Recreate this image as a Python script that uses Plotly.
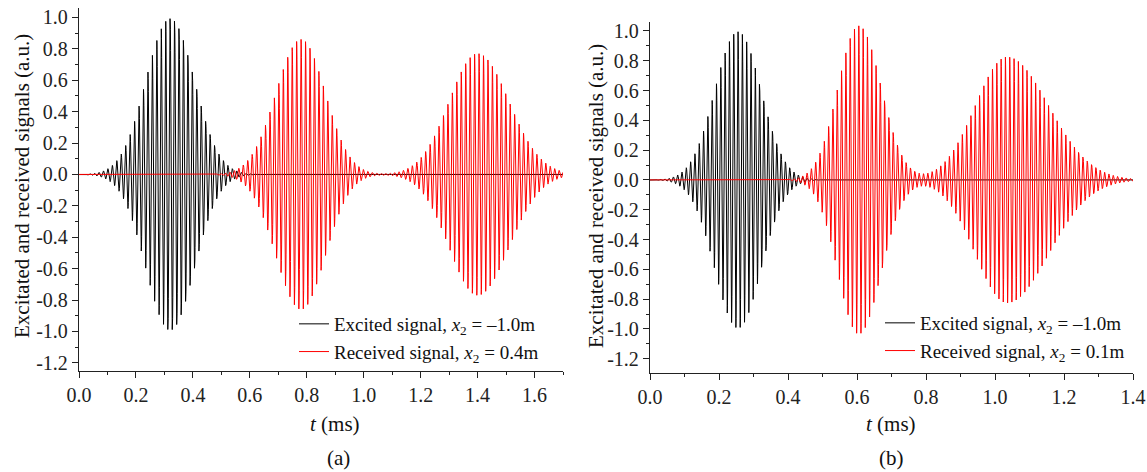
import numpy as np
import plotly.graph_objects as go

# ---- values (burst envelopes: centre / peak / left & right widths, ms) ----
a_t_max = 1.7
a_exc_centers = [0.32]
a_exc_peaks = [1.0]
a_exc_left = [0.085]
a_exc_right = [0.085]
a_rec_centers = [0.78, 1.40]
a_rec_peaks = [0.86, 0.77]
a_rec_left = [0.088, 0.10]
a_rec_right = [0.085, 0.11]
a_carrier_khz = 64.0

b_t_max = 1.4
b_exc_centers = [0.255]
b_exc_peaks = [1.0]
b_exc_left = [0.067]
b_exc_right = [0.067]
b_rec_centers = [0.605, 1.035]
b_rec_peaks = [1.04, 0.83]
b_rec_left = [0.06, 0.092]
b_rec_right = [0.065, 0.12]
b_carrier_khz = 80.0

legend_a = ["Excited signal, <i>x</i><sub>2</sub> = \u20131.0m",
            "Received signal, <i>x</i><sub>2</sub> = 0.4m"]
legend_b = ["Excited signal, <i>x</i><sub>2</sub> = \u20131.0m",
            "Received signal, <i>x</i><sub>2</sub> = 0.1m"]

x_ticks_a = [0.0, 0.2, 0.4, 0.6, 0.8, 1.0, 1.2, 1.4, 1.6]
x_ticks_b = [0.0, 0.2, 0.4, 0.6, 0.8, 1.0, 1.2, 1.4]
y_ticks = [1.0, 0.8, 0.6, 0.4, 0.2, 0.0, -0.2, -0.4, -0.6, -0.8, -1.0, -1.2]
y_tick_text = ["1.0", "0.8", "0.6", "0.4", "0.2", "0.0", "-0.2", "-0.4", "-0.6", "-0.8", "-1.0", "-1.2"]
x_tick_text_a = ["%.1f" % v for v in x_ticks_a]
x_tick_text_b = ["%.1f" % v for v in x_ticks_b]


def burst(t, centers, peaks, left, right, f_khz):
    env = np.zeros_like(t)
    for c, p, wl, wr in zip(centers, peaks, left, right):
        w = np.where(t < c, wl, wr)
        env += p * np.exp(-((t - c) ** 2) / (2 * w ** 2))
    return env * np.cos(2 * np.pi * f_khz * (t - centers[0]))


ta = np.linspace(0, a_t_max, int(a_t_max * a_carrier_khz * 24) + 1)
tb = np.linspace(0, b_t_max, int(b_t_max * b_carrier_khz * 24) + 1)

fig = go.Figure()
fig.add_trace(go.Scatter(x=ta, y=burst(ta, a_exc_centers, a_exc_peaks, a_exc_left, a_exc_right, a_carrier_khz),
                         mode="lines", line=dict(color="#000000", width=1), name=legend_a[0],
                         xaxis="x", yaxis="y", legend="legend"))
fig.add_trace(go.Scatter(x=ta, y=burst(ta, a_rec_centers, a_rec_peaks, a_rec_left, a_rec_right, a_carrier_khz),
                         mode="lines", line=dict(color="#ff0000", width=1), name=legend_a[1],
                         xaxis="x", yaxis="y", legend="legend"))
fig.add_trace(go.Scatter(x=tb, y=burst(tb, b_exc_centers, b_exc_peaks, b_exc_left, b_exc_right, b_carrier_khz),
                         mode="lines", line=dict(color="#000000", width=1), name=legend_b[0],
                         xaxis="x2", yaxis="y2", legend="legend2"))
fig.add_trace(go.Scatter(x=tb, y=burst(tb, b_rec_centers, b_rec_peaks, b_rec_left, b_rec_right, b_carrier_khz),
                         mode="lines", line=dict(color="#ff0000", width=1), name=legend_b[1],
                         xaxis="x2", yaxis="y2", legend="legend2"))

W, H = 1147, 472
font = "Liberation Serif"


def xaxis(domain, rng, ticks, text, anchor):
    return dict(domain=domain, range=rng, anchor=anchor, tickvals=ticks, ticktext=text,
                automargin=False,
                showline=True, linecolor="#222", linewidth=1.3, ticks="outside", ticklen=6,
                tickcolor="#222", tickwidth=1.2, showgrid=False, zeroline=False,
                tickfont=dict(family=font, size=20, color="#222"),
                minor=dict(ticks="outside", ticklen=3, dtick=0.1, tick0=0, tickcolor="#222", showgrid=False))


def yaxis(domain, rng, anchor):
    return dict(domain=domain, range=rng, anchor=anchor, tickvals=y_ticks, ticktext=y_tick_text,
                automargin=False,
                showline=True, linecolor="#222", linewidth=1.3, ticks="outside", ticklen=6,
                tickcolor="#222", tickwidth=1.2, showgrid=False, zeroline=False,
                tickfont=dict(family=font, size=20, color="#222"),
                minor=dict(ticks="outside", ticklen=3, dtick=0.1, tick0=0, tickcolor="#222", showgrid=False))


fig.update_layout(
    width=W, height=H, margin=dict(l=0, r=0, t=0, b=0, autoexpand=False),
    paper_bgcolor="white", plot_bgcolor="white",
    font=dict(family=font),
    xaxis=xaxis([79 / W, 563 / W], [0, a_t_max], x_ticks_a, x_tick_text_a, "y"),
    yaxis=yaxis([(H - 371) / H, (H - 8) / H], [-1.252, 1.06], "x"),
    xaxis2=xaxis([650 / W, 1133 / W], [0, b_t_max], x_ticks_b, x_tick_text_b, "y2"),
    yaxis2=yaxis([(H - 373) / H, (H - 22) / H], [-1.296, 1.06], "x2"),
    legend=dict(x=294 / W, y=(H - 305) / H, xanchor="left", yanchor="top", bgcolor="rgba(0,0,0,0)",
                font=dict(family=font, size=19, color="#111"), itemwidth=30, tracegroupgap=0),
    legend2=dict(x=880 / W, y=(H - 304) / H, xanchor="left", yanchor="top", bgcolor="rgba(0,0,0,0)",
                 font=dict(family=font, size=19, color="#111"), itemwidth=30, tracegroupgap=0),
    showlegend=True,
)

annots = [
    dict(text="Excitated and received signals (a.u.)", x=22 / W, y=(H - 186) / H, textangle=-90),
    dict(text="Excitated and received signals (a.u.)", x=596 / W, y=(H - 196) / H, textangle=-90),
    dict(text="<i>t</i> (ms)", x=335 / W, y=(H - 424) / H),
    dict(text="<i>t</i> (ms)", x=891 / W, y=(H - 424) / H),
    dict(text="(a)", x=338 / W, y=(H - 458) / H),
    dict(text="(b)", x=891 / W, y=(H - 458) / H),
]
for a in annots:
    fig.add_annotation(text=a["text"], x=a["x"], y=a["y"], xref="paper", yref="paper",
                       xanchor="center", yanchor="middle", showarrow=False,
                       textangle=a.get("textangle", 0),
                       font=dict(family=font, size=21, color="#111"))

fig.write_html("out.html")
